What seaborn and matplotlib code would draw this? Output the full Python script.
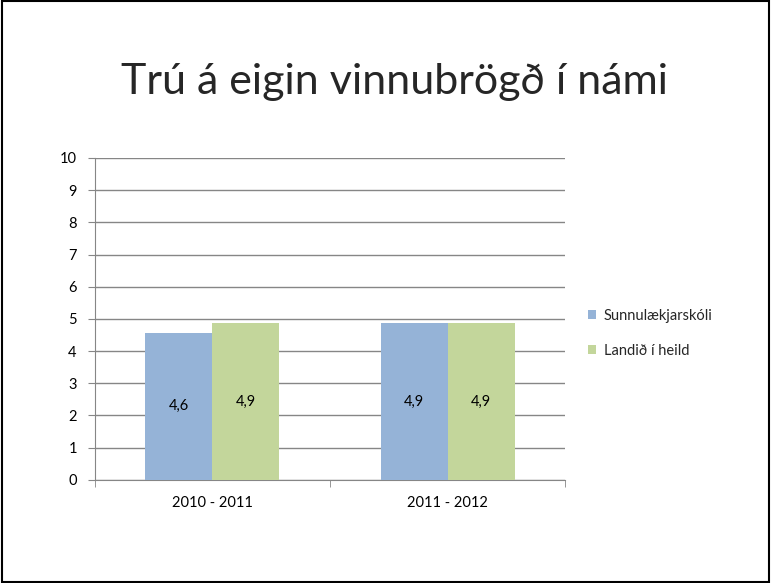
import matplotlib
matplotlib.use("Agg")
import matplotlib.pyplot as plt
import seaborn as sns
import pandas as pd
from matplotlib.patches import Rectangle

# data
years = ["2010 - 2011", "2011 - 2012"]
series = ["Sunnulækjarskóli", "Landið í heild"]
school_vals = [4.57, 4.87]
country_vals = [4.87, 4.87]
colors = ["#95B3D7", "#C3D69B"]

df = pd.DataFrame({
    "ar": years * 2,
    "hopur": [series[0]] * 2 + [series[1]] * 2,
    "gildi": school_vals + country_vals,
})

sns.set_style("white")
plt.rcParams['font.family'] = ['Lato', 'DejaVu Sans']

fig = plt.figure(figsize=(7.71, 5.83), dpi=100)
ax = fig.add_axes([0.123, 0.177, 0.610, 0.552])

sns.barplot(data=df, x="ar", y="gildi", hue="hopur", palette=colors,
            width=0.57, gap=0, ax=ax, saturation=1, legend=True, zorder=3,
            linewidth=0)

for cont in ax.containers:
    ax.bar_label(cont, labels=[f"{v:.1f}".replace(".", ",") for v in cont.datavalues],
                 label_type="center", fontsize=10.5, color="#000000")

ax.set_ylim(0, 10)
ax.set_xlim(-0.5, 1.5)
ax.set_yticks(range(0, 11))
ax.yaxis.grid(True, color="#868686", linewidth=1, zorder=0)
ax.set_axisbelow(True)
ax.set_xlabel("")
ax.set_ylabel("")
for s in ["top", "right"]:
    ax.spines[s].set_visible(False)
for s in ["left", "bottom"]:
    ax.spines[s].set_color("#868686")
ax.tick_params(axis="y", left=True, length=5, color="#868686", labelsize=10.5,
               labelcolor="#000000", pad=8)
ax.set_xticks([0, 1])
ax.set_xticklabels(years, fontsize=10.5, color="#000000")
ax.tick_params(axis="x", bottom=False, pad=8)
ax.set_xticks([-0.5, 0.5, 1.5], minor=True)
ax.tick_params(axis="x", which="minor", bottom=True, length=5, color="#868686")

ax.legend(loc="center left", bbox_to_anchor=(1.02, 0.455), frameon=False,
          fontsize=10.5, handlelength=0.6, handleheight=0.6, handletextpad=0.5,
          labelspacing=1.45)

fig.text(0.512, 0.86, "Trú á eigin vinnubrögð í námi", ha="center", va="center",
         fontsize=31)

fig.patches.append(Rectangle((0.002, 0.002), 0.996, 0.996, transform=fig.transFigure,
                             fill=False, edgecolor="black", linewidth=1.5))

fig.savefig("out.png", dpi=100)
